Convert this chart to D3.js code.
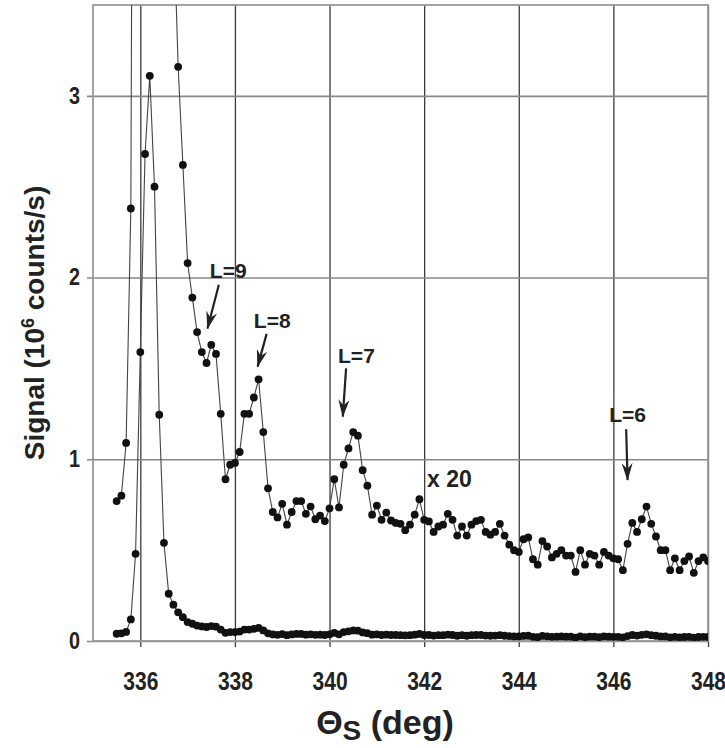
<!DOCTYPE html>
<html>
<head>
<meta charset="utf-8">
<script src="https://cdn.jsdelivr.net/npm/d3@7"></script>
<style>
  body { margin: 0; background: #fff; }
  svg { display: block; }
  text { font-family: "Liberation Sans", Arial, sans-serif; fill: #222; }
</style>
</head>
<body>
<svg id="chart" width="725" height="748"></svg>
<script>
// scan angle (deg)
var angles = [
  335.5, 335.6, 335.7, 335.8, 335.9, 336.0, 336.1, 336.2, 336.3, 336.4,
  336.5, 336.6, 336.7, 336.8, 336.9, 337.0, 337.1, 337.2, 337.3, 337.4,
  337.5, 337.6, 337.7, 337.8, 337.9, 338.0, 338.1, 338.2, 338.3, 338.4,
  338.5, 338.6, 338.7, 338.8, 338.9, 339.0, 339.1, 339.2, 339.3, 339.4,
  339.5, 339.6, 339.7, 339.8, 339.9, 340.0, 340.1, 340.2, 340.3, 340.4,
  340.5, 340.6, 340.7, 340.8, 340.9, 341.0, 341.1, 341.2, 341.3, 341.4,
  341.5, 341.6, 341.7, 341.8, 341.9, 342.0, 342.1, 342.2, 342.3, 342.4,
  342.5, 342.6, 342.7, 342.8, 342.9, 343.0, 343.1, 343.2, 343.3, 343.4,
  343.5, 343.6, 343.7, 343.8, 343.9, 344.0, 344.1, 344.2, 344.3, 344.4,
  344.5, 344.6, 344.7, 344.8, 344.9, 345.0, 345.1, 345.2, 345.3, 345.4,
  345.5, 345.6, 345.7, 345.8, 345.9, 346.0, 346.1, 346.2, 346.3, 346.4,
  346.5, 346.6, 346.7, 346.8, 346.9, 347.0, 347.1, 347.2, 347.3, 347.4,
  347.5, 347.6, 347.7, 347.8, 347.9, 348.0
];

// signal, 10^6 counts/s
var signal = [
  0.040, 0.042, 0.050, 0.119, 0.480, 1.590, 2.680, 3.110, 2.500, 1.245,
  0.540, 0.260, 0.200, 0.158, 0.131, 0.104, 0.095, 0.085, 0.080, 0.077,
  0.082, 0.079, 0.063, 0.045, 0.049, 0.049, 0.052, 0.063, 0.063, 0.067,
  0.072, 0.058, 0.042, 0.036, 0.034, 0.038, 0.032, 0.036, 0.039, 0.039,
  0.035, 0.037, 0.034, 0.035, 0.033, 0.037, 0.045, 0.037, 0.049, 0.053,
  0.058, 0.057, 0.047, 0.043, 0.035, 0.037, 0.033, 0.035, 0.033, 0.033,
  0.032, 0.031, 0.032, 0.035, 0.039, 0.033, 0.033, 0.030, 0.032, 0.032,
  0.035, 0.033, 0.029, 0.032, 0.029, 0.032, 0.033, 0.033, 0.030, 0.029,
  0.030, 0.032, 0.029, 0.027, 0.025, 0.025, 0.028, 0.029, 0.023, 0.021,
  0.028, 0.026, 0.023, 0.024, 0.025, 0.024, 0.024, 0.019, 0.025, 0.021,
  0.024, 0.024, 0.021, 0.025, 0.024, 0.023, 0.023, 0.020, 0.027, 0.033,
  0.030, 0.034, 0.037, 0.032, 0.029, 0.025, 0.025, 0.020, 0.023, 0.020,
  0.022, 0.023, 0.019, 0.022, 0.023, 0.022
];

// same scan plotted x 20
var signalX20 = [
  0.77, 0.80, 1.09, 2.38, 9.6, 31.8, 53.6, 62.2, 50.0, 24.9,
  10.8, 5.2, 4.0, 3.16, 2.62, 2.08, 1.89, 1.70, 1.59, 1.53,
  1.63, 1.58, 1.25, 0.89, 0.97, 0.98, 1.04, 1.25, 1.25, 1.34,
  1.44, 1.15, 0.84, 0.71, 0.68, 0.755, 0.64, 0.71, 0.77, 0.77,
  0.70, 0.74, 0.67, 0.69, 0.66, 0.73, 0.89, 0.735, 0.97, 1.06,
  1.15, 1.13, 0.94, 0.855, 0.695, 0.745, 0.667, 0.707, 0.663, 0.65,
  0.645, 0.61, 0.64, 0.695, 0.78, 0.667, 0.658, 0.60, 0.63, 0.64,
  0.70, 0.667, 0.58, 0.63, 0.58, 0.64, 0.66, 0.667, 0.60, 0.585,
  0.60, 0.645, 0.58, 0.53, 0.50, 0.49, 0.56, 0.57, 0.45, 0.42,
  0.55, 0.52, 0.46, 0.48, 0.50, 0.47, 0.47, 0.38, 0.50, 0.42,
  0.48, 0.47, 0.42, 0.49, 0.47, 0.455, 0.45, 0.39, 0.535, 0.65,
  0.60, 0.67, 0.74, 0.645, 0.575, 0.50, 0.50, 0.39, 0.455, 0.39,
  0.44, 0.465, 0.375, 0.44, 0.46, 0.44
];

var xTicks = [336, 338, 340, 342, 344, 346, 348];
var yTicks = [0, 1, 2, 3];

// peak labels, in data units: text corner, arrow tail, arrow tip
var peakLabels = ['L=9', 'L=8', 'L=7', 'L=6'];
var peakText = [[337.47, 2.0], [338.40, 1.72], [340.18, 1.53], [345.91, 1.205]];
var peakTail = [[337.66, 1.96], [338.67, 1.69], [340.35, 1.50], [346.27, 1.165]];
var peakTip = [[337.42, 1.72], [338.48, 1.51], [340.28, 1.235], [346.30, 0.886]];
var scaleNote = 'x 20';
var scaleNotePos = [342.06, 0.848];

var svg = d3.select('#chart');
var plotL = 93, plotR = 708, plotT = 5, plotB = 641;

var x = d3.scaleLinear().domain([335, 348]).range([plotL, plotR]);
var y = d3.scaleLinear().domain([0, 3.5]).range([plotB, plotT]);

var defs = svg.append('defs');
defs.append('clipPath').attr('id', 'plotclip')
  .append('rect')
  .attr('x', plotL).attr('y', plotT)
  .attr('width', plotR - plotL).attr('height', plotB - plotT);

// grid through the axes
svg.append('g')
  .attr('transform', 'translate(0,' + plotB + ')')
  .call(d3.axisBottom(x).tickValues(xTicks).tickSize(0).tickPadding(31).tickFormat(d3.format('d')))
  .call(function(g) {
    g.select('.domain').remove();
    g.selectAll('.tick line').remove();
    g.selectAll('.tick').append('line')
      .attr('y1', 6).attr('y2', plotT - plotB)
      .attr('stroke', '#3c3c3c').attr('stroke-width', 1.3);
    g.selectAll('.tick text')
      .attr('transform', 'scale(0.84,1)')
      .style('font-size', '25px').style('font-weight', 'bold')
      .attr('fill', '#333');
  });

svg.append('g')
  .attr('transform', 'translate(' + plotL + ',0)')
  .call(d3.axisLeft(y).tickValues(yTicks).tickSize(0).tickPadding(13).tickFormat(d3.format('d')))
  .call(function(g) {
    g.select('.domain').remove();
    g.selectAll('.tick line').remove();
    g.selectAll('.tick').append('line')
      .attr('x1', -6).attr('x2', plotR - plotL)
      .attr('stroke', '#888').attr('stroke-width', 1.6);
    g.selectAll('.tick text')
      .attr('transform', 'translate(-13,0) scale(0.86,1) translate(13,0)')
      .style('font-size', '23px').style('font-weight', 'bold')
      .attr('fill', '#333');
  });

// frame
svg.append('rect')
  .attr('x', plotL).attr('y', plotT)
  .attr('width', plotR - plotL).attr('height', plotB - plotT)
  .attr('fill', 'none').attr('stroke', '#999').attr('stroke-width', 1.8);

var line = d3.line()
  .x(function(d, i) { return x(angles[i]); })
  .y(function(d) { return y(d); });

var plot = svg.append('g').attr('clip-path', 'url(#plotclip)');

function drawTrace(values) {
  plot.append('path')
    .datum(values)
    .attr('fill', 'none')
    .attr('stroke', '#444')
    .attr('stroke-width', 1.1)
    .attr('d', line);
  plot.append('g').selectAll('circle')
    .data(values)
    .enter().append('circle')
    .attr('cx', function(d, i) { return x(angles[i]); })
    .attr('cy', function(d) { return y(d); })
    .attr('r', 3.9)
    .attr('fill', '#111')
    .filter(function(d) { return d > 3.5; })
    .remove();
}

drawTrace(signal);
drawTrace(signalX20);

// arrows for the peaks
defs.append('marker')
  .attr('id', 'head')
  .attr('viewBox', '0 0 18 11')
  .attr('refX', 17).attr('refY', 5.5)
  .attr('markerWidth', 18).attr('markerHeight', 11)
  .attr('markerUnits', 'userSpaceOnUse')
  .attr('orient', 'auto')
  .append('path').attr('d', 'M0,0 L18,5.5 L0,11 L6,5.5 Z').attr('fill', '#222');

var notes = svg.append('g');
peakLabels.forEach(function(label, i) {
  notes.append('line')
    .attr('x1', x(peakTail[i][0])).attr('y1', y(peakTail[i][1]))
    .attr('x2', x(peakTip[i][0])).attr('y2', y(peakTip[i][1]))
    .attr('stroke', '#222').attr('stroke-width', 2.2)
    .attr('marker-end', 'url(#head)');
  notes.append('text')
    .attr('x', x(peakText[i][0]))
    .attr('y', y(peakText[i][1]))
    .style('font-size', '21px').style('font-weight', 'bold')
    .text(label);
});

notes.append('text')
  .attr('x', x(scaleNotePos[0])).attr('y', y(scaleNotePos[1]))
  .style('font-size', '23px').style('font-weight', 'bold')
  .text(scaleNote);

// axis titles
var xt = svg.append('text')
  .attr('x', 385).attr('y', 734)
  .attr('text-anchor', 'middle')
  .style('font-size', '34px').style('font-weight', 'bold');
xt.append('tspan').text('\u0398');
xt.append('tspan').attr('dy', 6).style('font-size', '28px').text('S');
xt.append('tspan').attr('dy', -6).text(' (deg)');

var yt = svg.append('text')
  .attr('transform', 'translate(44,' + ((plotT + plotB) / 2) + ') rotate(-90)')
  .attr('text-anchor', 'middle')
  .style('font-size', '28px').style('font-weight', 'bold');
yt.append('tspan').text('Signal (10');
yt.append('tspan').attr('dy', -10).style('font-size', '18px').text('6');
yt.append('tspan').attr('dy', 10).text(' counts/s)');
</script>
</body>
</html>
